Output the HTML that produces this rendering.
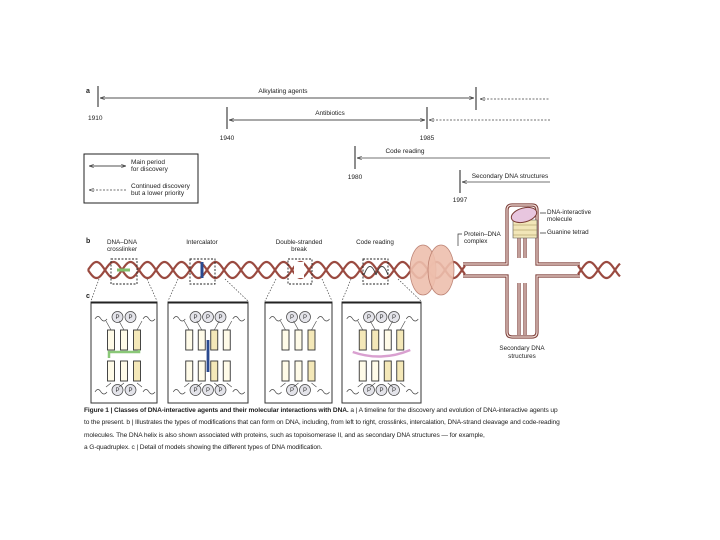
<!DOCTYPE html>
<html><head><meta charset="utf-8"><style>
body{margin:0;background:#fff;width:720px;height:540px;overflow:hidden}
svg{display:block;font-family:"Liberation Sans",sans-serif}
.cap{position:absolute;left:84px;top:405px;width:478px;font:6.6px/12.4px "Liberation Sans",sans-serif;color:#222;letter-spacing:-0.1px}
</style></head><body>
<svg id="s" width="720" height="540" viewBox="0 0 720 540">
<defs>
<marker id="ar" markerWidth="6" markerHeight="6" refX="0" refY="3" orient="auto"><path d="M6,1 L0,3 L6,5" fill="none" stroke="#444" stroke-width="0.8"/></marker>
</defs>
<g font-size="6.5" fill="#222">
<text x="86" y="93" font-weight="bold" font-size="7">a</text>
<text x="283" y="93" text-anchor="middle">Alkylating agents</text>
<text x="330" y="115" text-anchor="middle">Antibiotics</text>
<text x="405" y="153" text-anchor="middle">Code reading</text>
<text x="510" y="178" text-anchor="middle">Secondary DNA structures</text>
<text x="88" y="120">1910</text>
<text x="227" y="140" text-anchor="middle">1940</text>
<text x="427" y="140" text-anchor="middle">1985</text>
<text x="355" y="179" text-anchor="middle">1980</text>
<text x="460" y="202" text-anchor="middle">1997</text>
<text x="131" y="164">Main period</text><text x="131" y="171">for discovery</text>
<text x="131" y="188">Continued discovery</text><text x="131" y="195">but a lower priority</text>
</g>
<g stroke="#444" stroke-width="0.8" fill="none">
<line x1="98" y1="86" x2="98" y2="107" stroke-width="1.2"/>
<line x1="476" y1="87" x2="476" y2="110" stroke-width="1.2"/>
<line x1="100" y1="98" x2="474" y2="98" marker-start="url(#ar)"/>
<line x1="474" y1="98" x2="100" y2="98" marker-start="url(#ar)"/>
<line x1="480" y1="99" x2="550" y2="99" stroke-dasharray="2,1.5" marker-start="url(#ar)"/>
<line x1="227" y1="107" x2="227" y2="129" stroke-width="1.2"/>
<line x1="427" y1="107" x2="427" y2="129" stroke-width="1.2"/>
<line x1="229" y1="120" x2="425" y2="120" marker-start="url(#ar)"/>
<line x1="425" y1="120" x2="229" y2="120" marker-start="url(#ar)"/>
<line x1="429" y1="120" x2="550" y2="120" stroke-dasharray="2,1.5" marker-start="url(#ar)"/>
<line x1="355" y1="146" x2="355" y2="169" stroke-width="1.2"/>
<line x1="357" y1="158" x2="550" y2="158" marker-start="url(#ar)"/>
<line x1="460" y1="170" x2="460" y2="193" stroke-width="1.2"/>
<line x1="462" y1="182" x2="550" y2="182" marker-start="url(#ar)"/>
<rect x="84" y="154" width="114" height="49" stroke="#222" stroke-width="1"/>
<line x1="89" y1="166" x2="126" y2="166" marker-start="url(#ar)"/>
<line x1="126" y1="166" x2="89" y2="166" marker-start="url(#ar)"/>
<line x1="89" y1="190" x2="126" y2="190" stroke-dasharray="2,1.5" marker-start="url(#ar)"/>
</g>
<g font-size="6.3" fill="#222" text-anchor="middle">
<text x="86" y="243" font-weight="bold" font-size="7" text-anchor="start">b</text>
<text x="122" y="244">DNA–DNA</text><text x="122" y="251">crosslinker</text>
<text x="202" y="244">Intercalator</text>
<text x="299" y="244">Double-stranded</text><text x="299" y="251">break</text>
<text x="375" y="244">Code reading</text>
<text x="86" y="298" font-weight="bold" font-size="7" text-anchor="start">c</text>
<text x="464" y="236" text-anchor="start">Protein–DNA</text><text x="464" y="243" text-anchor="start">complex</text>
<text x="547" y="214" text-anchor="start">DNA-interactive</text><text x="547" y="221" text-anchor="start">molecule</text>
<text x="547" y="234" text-anchor="start">Guanine tetrad</text>
<text x="522" y="350">Secondary DNA</text><text x="522" y="358">structures</text>
</g>
<g id="helix"></g>
<g fill="none" stroke="#7a3b35" stroke-width="3.2">
<path d="M463,264 L507,264 L507,210 Q507,205 512,205 L532,205 Q537,205 537,210 L537,264 L580,264 M463,276 L507,276 L507,332 Q507,337 512,337 L532,337 Q537,337 537,332 L537,276 L580,276 M519,222 L519,258 M525,222 L525,258 M519,283 L519,335 M525,283 L525,335"/>
</g>
<g fill="none" stroke="#f3e1dc" stroke-width="1.2">
<path d="M463,264 L507,264 L507,210 Q507,205 512,205 L532,205 Q537,205 537,210 L537,264 L580,264 M463,276 L507,276 L507,332 Q507,337 512,337 L532,337 Q537,337 537,332 L537,276 L580,276 M519,222 L519,258 M525,222 L525,258 M519,283 L519,335 M525,283 L525,335"/>
</g>
<path d="M513,220 L537,220 L537,238 L513,238 Z" fill="#f2e6b8" stroke="#555" stroke-width="0.6"/>
<path d="M513,225 L537,225 M513,230 L537,230 M513,235 L537,235" stroke="#9a8a50" stroke-width="0.6"/>
<ellipse cx="524" cy="215" rx="13" ry="7" fill="#e8c6df" stroke="#7a3b35" stroke-width="1" transform="rotate(-15 524 215)"/>
<path d="M540,213 H546 M540,233 H546" stroke="#333" stroke-width="0.7"/>
<ellipse cx="423" cy="270" rx="13" ry="25" fill="#eebfad" stroke="#b87a6a" stroke-width="0.8" opacity="0.9"/>
<ellipse cx="441" cy="270" rx="13" ry="25" fill="#eebfad" stroke="#b87a6a" stroke-width="0.8" opacity="0.9"/>
<path d="M462,234 H458 V246" stroke="#333" stroke-width="0.7" fill="none"/>
<g id="boxes"></g>
</svg>
<div class="cap"><b>Figure 1 | Classes of DNA-interactive agents and their molecular interactions with DNA.</b> a | A timeline for the discovery and evolution of DNA-interactive agents up to the present. b | Illustrates the types of modifications that can form on DNA, including, from left to right, crosslinks, intercalation, DNA-strand cleavage and code-reading molecules. The DNA helix is also shown associated with proteins, such as topoisomerase II, and as secondary DNA structures — for example,<br>a G-quadruplex. c | Detail of models showing the different types of DNA modification.</div>
<script>
var NS="http://www.w3.org/2000/svg";
function el(p,t,a){var e=document.createElementNS(NS,t);for(var k in a)e.setAttribute(k,a[k]);p.appendChild(e);return e;}
var h=document.getElementById("helix");
function strand(x0,x1,ph){var d="";for(var x=x0;x<=x1;x+=1){var y=270+8*Math.sin((x-88)/34*2*Math.PI+ph);d+=(x==x0?"M":"L")+x+","+y.toFixed(1);}return d;}
[[88,465],[578,620]].forEach(function(r){
[0,Math.PI].forEach(function(ph){el(h,"path",{d:strand(r[0],r[1],ph),fill:"none",stroke:"#9a4a40","stroke-width":"2.2"});});
});
el(h,"path",{d:"M117,270 H130",stroke:"#7fbf6a","stroke-width":"3"});
el(h,"path",{d:"M202,262 V278",stroke:"#2a4a90","stroke-width":"3"});
el(h,"rect",{x:294,y:262,width:10,height:16,fill:"#fff"});
[370,382].forEach(function(c){el(h,"path",{d:"M"+(c-6)+",275 Q"+c+",258 "+(c+6)+",275",fill:"none",stroke:"#444","stroke-width":"1"});});
var b=document.getElementById("boxes");
var db=[[111,137,91,157],[190,215,168,248],[288,312,265,332],[363,388,342,421]];
db.forEach(function(q){
el(b,"rect",{x:q[0],y:259,width:q[1]-q[0],height:25,fill:"none",stroke:"#222","stroke-width":"0.9","stroke-dasharray":"2,1.5"});
el(b,"path",{d:"M"+(q[0]-12)+",279 L"+q[2]+",301 M"+(q[1]+10)+",279 L"+q[3]+",301",stroke:"#444","stroke-width":"0.7","stroke-dasharray":"1.5,1.5",fill:"none"});
el(b,"rect",{x:q[2],y:302,width:q[3]-q[2],height:101,fill:"none",stroke:"#333","stroke-width":"1"});
el(b,"line",{x1:q[2],y1:302.5,x2:q[3],y2:302.5,stroke:"#222","stroke-width":"2"});
});
var cfg=[[3,[0,0,1],[0,0,1]],[4,[0,0,1,0],[0,0,1,0]],[3,[0,0,1],[0,0,1]],[4,[1,1,0,1],[0,0,1,1]]];
db.forEach(function(q,i){
var n=cfg[i][0],w=q[3]-q[2],sp=(n==3?13:12.5),x0=q[2]+w/2-sp*(n-1)/2;
for(var r=0;r<2;r++){
 var yb=r?361:330,yp=r?390:317,col=r?cfg[i][2]:cfg[i][1];
 var np=n-1;
 for(var j=0;j<np;j++){var cx=x0+sp*(j+0.5);
  el(b,"circle",{cx:cx,cy:yp,r:5.5,fill:"#e4e4ea",stroke:"#444","stroke-width":"0.7"});
  var t=el(b,"text",{x:cx,y:yp+2.2,"font-size":"6","text-anchor":"middle",fill:"#333"});t.textContent="P";}
 el(b,"path",{d:"M"+(x0-16)+","+(yp+2)+" q3,-5 6,0 q3,4 6,0 M"+(x0+sp*(n-1)+6)+","+(yp+2)+" q3,-5 6,0 q3,4 6,0",fill:"none",stroke:"#444","stroke-width":"0.7"});
 for(var j=0;j<n;j++){var x=x0+sp*j;
  el(b,"line",{x1:x,y1:r?yb+22:yb,x2:x+(j<n/2?-5:5),y2:r?yp-3:yp+4,stroke:"#444","stroke-width":"0.6"});
  el(b,"rect",{x:x-3.5,y:yb,width:7,height:20,fill:col[j]?"#f4e8b8":"#fffbe8",stroke:"#333","stroke-width":"0.9"});}
}
if(i==0)el(b,"path",{d:"M"+(x0-2)+",358 V352 H"+(x0+2*sp+2)+" V350",fill:"none",stroke:"#8ac878","stroke-width":"2.5"});
if(i==1)el(b,"line",{x1:x0+sp*1.5,y1:340,x2:x0+sp*1.5,y2:372,stroke:"#2a4a90","stroke-width":"2.8"});
if(i==3)el(b,"path",{d:"M"+(x0-10)+",352 Q"+(x0+sp*1.5)+",362 "+(x0+sp*3+10)+",350",fill:"none",stroke:"#d9a0d0","stroke-width":"2.5"});
});
</script>
</body></html>
